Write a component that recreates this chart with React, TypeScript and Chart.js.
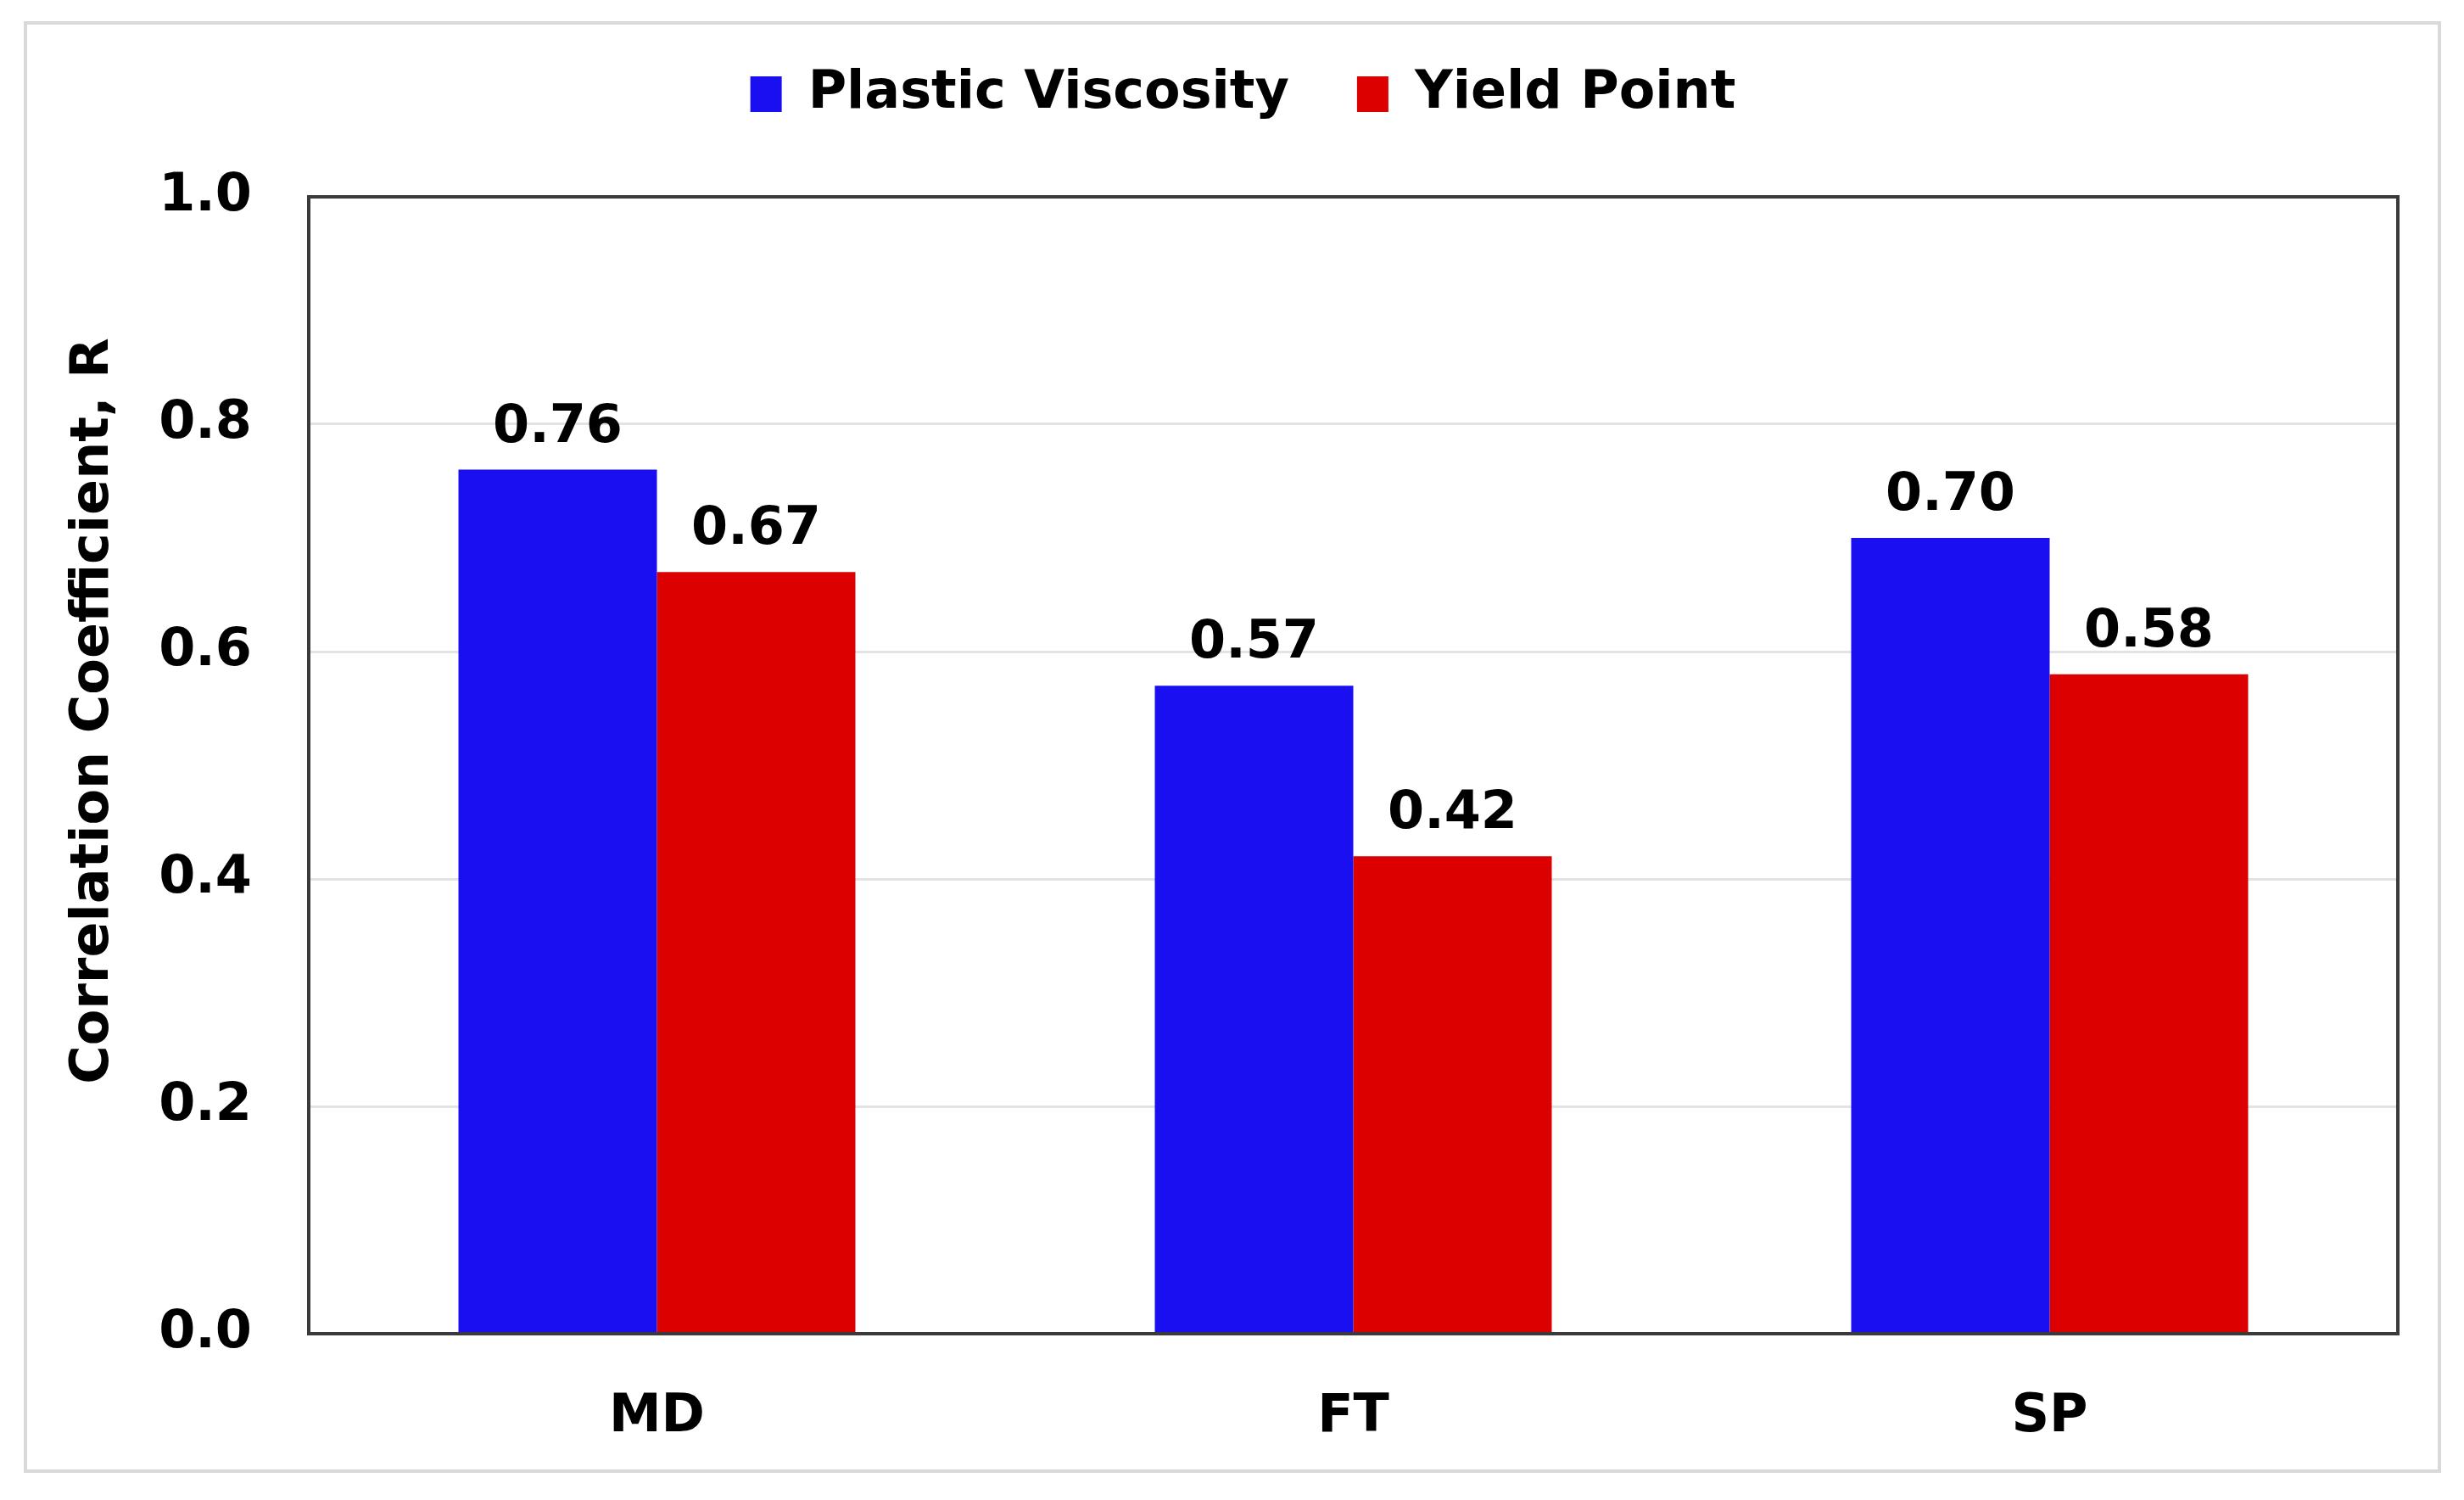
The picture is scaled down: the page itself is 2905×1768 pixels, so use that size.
import { Chart, registerables } from "chart.js";
import { useEffect, useRef } from "react";

Chart.register(...registerables);

const categories = ["MD", "FT", "SP"];
const plasticViscosity = [0.76, 0.57, 0.7];
const yieldPoint = [0.67, 0.42, 0.58];
const yTicks = [0, 0.2, 0.4, 0.6, 0.8, 1.0];
const yTitle = "Correlation Coefficient, R";

const FONT = "'DejaVu Sans', Verdana, sans-serif";

// extra room under the legend, and nudge it into place
const legendSpace = {
  id: "legendSpace",
  beforeInit(chart: any) {
    const origFit = chart.legend.fit;
    chart.legend.fit = function () {
      origFit.bind(chart.legend)();
      this.height += 51;
    };
  },
  afterLayout(chart: any) {
    const lg = chart.legend;
    lg.top -= 29;
    lg.bottom -= 29;
    lg.left += 36;
    lg.right += 36;
  },
};

const valueLabels = {
  id: "valueLabels",
  afterDatasetsDraw(chart: any) {
    const ctx = chart.ctx;
    ctx.save();
    ctx.font = `bold 62px ${FONT}`;
    ctx.fillStyle = "#000";
    ctx.textAlign = "center";
    ctx.textBaseline = "alphabetic";
    chart.data.datasets.forEach((ds: any, i: number) => {
      chart.getDatasetMeta(i).data.forEach((bar: any, j: number) => {
        ctx.fillText(Number(ds.data[j]).toFixed(2), bar.x, bar.y - 33);
      });
    });
    ctx.restore();
  },
};

const plotFrame = {
  id: "plotFrame",
  afterDraw(chart: any) {
    const { ctx, chartArea } = chart;
    ctx.save();
    ctx.strokeStyle = "#3a3a3a";
    ctx.lineWidth = 4;
    ctx.strokeRect(chartArea.left, chartArea.top, chartArea.right - chartArea.left, chartArea.bottom - chartArea.top);
    // y axis title, sits a little above the middle of the plot
    ctx.translate(79, (chartArea.top + chartArea.bottom) / 2 - 64);
    ctx.rotate(-Math.PI / 2);
    ctx.font = `bold 62px ${FONT}`;
    ctx.fillStyle = "#000";
    ctx.textAlign = "center";
    ctx.textBaseline = "middle";
    ctx.fillText(yTitle, 0, 0);
    ctx.restore();
  },
};

const App = () => {
  const chartRef = useRef<HTMLCanvasElement | null>(null);

  useEffect(() => {
    if (!chartRef.current) return;
    const chartInstance = new Chart(chartRef.current, {
      type: "bar",
      data: {
        labels: categories,
        datasets: [
          {
            label: "Plastic Viscosity",
            data: plasticViscosity,
            backgroundColor: "#1a0ff0",
            categoryPercentage: 0.57,
            barPercentage: 1,
          },
          {
            label: "Yield Point",
            data: yieldPoint,
            backgroundColor: "#dd0000",
            categoryPercentage: 0.57,
            barPercentage: 1,
          },
        ],
      },
      options: {
        responsive: true,
        maintainAspectRatio: false,
        animation: false,
        layout: { padding: { top: 0, right: 47, bottom: 0, left: 0 } },
        plugins: {
          tooltip: { enabled: false },
          legend: {
            position: "top",
            labels: {
              color: "#000",
              font: { family: FONT, size: 62, weight: "bold" },
              boxWidth: 37,
              boxHeight: 42,
              padding: 80,
            },
          },
        },
        scales: {
          x: {
            afterFit: (scale: any) => {
              scale.height = 160;
            },
            grid: { display: false, drawTicks: false },
            border: { display: true, color: "#3a3a3a", width: 4 },
            ticks: {
              color: "#000",
              padding: 62,
              font: { family: FONT, size: 62, weight: "bold" },
            },
          },
          y: {
            min: 0,
            max: 1,
            afterFit: (scale: any) => {
              scale.width = 332;
            },
            afterBuildTicks: (scale: any) => {
              scale.ticks = yTicks.map((v) => ({ value: v }));
            },
            grid: { color: "#e3e3e3", lineWidth: 3, drawTicks: false },
            border: { display: true, color: "#3a3a3a", width: 4 },
            ticks: {
              color: "#000",
              padding: 67,
              font: { family: FONT, size: 62, weight: "bold" },
              callback: (v: any) => Number(v).toFixed(1),
            },
          },
        },
      },
      plugins: [legendSpace, valueLabels, plotFrame],
    });

    return () => {
      chartInstance.destroy();
    };
  }, []);

  return (
    <div
      style={{
        position: "absolute",
        left: 28,
        top: 25,
        width: 2850,
        height: 1711,
        border: "4px solid #d9d9d9",
        boxSizing: "border-box",
        background: "#fff",
      }}
    >
      <canvas ref={chartRef} />
    </div>
  );
};

export default App;
